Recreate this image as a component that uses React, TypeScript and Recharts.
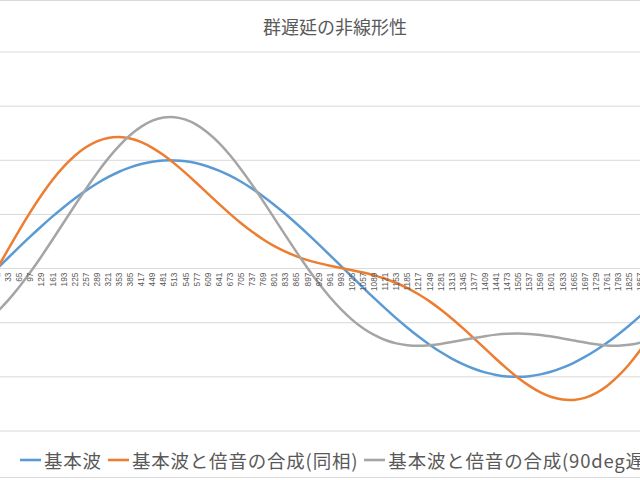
import { LineChart, Line, XAxis, YAxis, CartesianGrid, Legend } from "recharts"

// サンプル番号（横軸ラベル、32おき）
const LABELS = [
  1, 33, 65, 97, 129, 161, 193, 225, 257, 289, 321, 353, 385, 417, 449, 481, 513, 545, 577, 609, 641,
  673, 705, 737, 769, 801, 833, 865, 897, 929, 961, 993, 1025, 1057, 1089, 1121, 1153, 1185, 1217, 1249,
  1281, 1313, 1345, 1377, 1409, 1441, 1473, 1505, 1537, 1569, 1601, 1633, 1665, 1697, 1729, 1761, 1793,
  1825, 1857, 1889, 1921, 1953, 1985,
]

// 基本波
const BASE = [
  0, 0.1, 0.2, 0.297, 0.391, 0.482, 0.567, 0.647, 0.72, 0.786, 0.844, 0.894, 0.934, 0.965, 0.987, 0.998,
  0.999, 0.991, 0.972, 0.943, 0.905, 0.858, 0.802, 0.738, 0.666, 0.588, 0.504, 0.414, 0.321, 0.224, 0.125,
  0.025, -0.075, -0.175, -0.273, -0.368, -0.46, -0.546, -0.628, -0.703, -0.771, -0.831, -0.882, -0.925,
  -0.959, -0.982, -0.996, -1.0, -0.994, -0.977, -0.951, -0.915, -0.87, -0.816, -0.754, -0.685, -0.608,
  -0.525, -0.437, -0.345, -0.249, -0.15, -0.05,
]

// 基本波と倍音の合成(同相)
const IN_PHASE = [
  0, 0.18, 0.356, 0.524, 0.679, 0.82, 0.941, 1.042, 1.12, 1.175, 1.206, 1.214, 1.201, 1.167, 1.115, 1.048,
  0.969, 0.881, 0.788, 0.692, 0.597, 0.505, 0.418, 0.339, 0.269, 0.207, 0.156, 0.113, 0.078, 0.05, 0.026,
  0.005, -0.015, -0.037, -0.063, -0.094, -0.133, -0.18, -0.237, -0.303, -0.378, -0.461, -0.55, -0.644,
  -0.74, -0.835, -0.926, -1.01, -1.083, -1.143, -1.186, -1.21, -1.213, -1.194, -1.15, -1.084, -0.994,
  -0.883, -0.752, -0.603, -0.441, -0.269, -0.09,
]

// 基本波と倍音の合成(90deg遅れ)
const DELAYED = [
  -0.4, -0.292, -0.168, -0.032, 0.114, 0.268, 0.425, 0.582, 0.735, 0.881, 1.015, 1.133, 1.233, 1.311, 1.366,
  1.395, 1.398, 1.375, 1.327, 1.254, 1.16, 1.046, 0.916, 0.773, 0.621, 0.464, 0.307, 0.152, 0.003, -0.136,
  -0.262, -0.374, -0.471, -0.551, -0.613, -0.66, -0.691, -0.708, -0.713, -0.708, -0.696, -0.679, -0.66,
  -0.641, -0.624, -0.61, -0.602, -0.6, -0.604, -0.613, -0.628, -0.645, -0.664, -0.683, -0.699, -0.71,
  -0.712, -0.704, -0.684, -0.65, -0.599, -0.532, -0.448,
]

const Y_TICKS = [-1.5, -1, -0.5, 0, 0.5, 1, 1.5, 2]

const SERIES = [
  { key: "base", name: "基本波", color: "#5B9BD5" },
  { key: "inPhase", name: "基本波と倍音の合成(同相)", color: "#ED7D31" },
  { key: "delayed", name: "基本波と倍音の合成(90deg遅れ)", color: "#A5A5A5" },
]

const data = LABELS.map((n, i) => ({
  n,
  base: BASE[i],
  inPhase: IN_PHASE[i],
  delayed: DELAYED[i],
}))

const FONT = '"Noto Sans CJK JP", "Noto Sans", sans-serif'
const TEXT_COLOR = "#595959"
const GRID_COLOR = "#d9d9d9"

const CHART_W = 730
const CHART_H = 477
const MARGIN = { top: 52, right: 20, left: 17, bottom: 0 }
const X_AXIS_H = 46
const PLOT_H = CHART_H - MARGIN.top - X_AXIS_H
// the category axis crosses at y = 0, so the labels sit there, not at the bottom
const ZERO_Y = MARGIN.top + PLOT_H * (2 / 3.5)

function AxisTick(props: any) {
  const { x, payload } = props
  const y = ZERO_Y + 4
  return (
    <text
      x={x}
      y={y}
      dy="0.35em"
      transform={`rotate(-90 ${x} ${y})`}
      textAnchor="end"
      fontSize={8.3}
      fontFamily='"Liberation Sans", Arial, sans-serif'
      fill={TEXT_COLOR}
    >
      {payload.value}
    </text>
  )
}

// Excel-style legend, kept in series order and left aligned
function LegendContent() {
  return (
    <div style={{ display: "flex", alignItems: "center", whiteSpace: "nowrap" }}>
      {SERIES.map((s) => (
        <div key={s.key} style={{ display: "flex", alignItems: "center", marginRight: 6 }}>
          <svg width={21} height={12} style={{ marginRight: 3 }}>
            <line x1={0} x2={21} y1={6} y2={6} stroke={s.color} strokeWidth={2.6} />
          </svg>
          <span
            style={{
              color: TEXT_COLOR,
              fontSize: 18.5,
              letterSpacing: 0.8,
              fontFamily: FONT,
              lineHeight: "24px",
            }}
          >
            {s.name}
          </span>
        </div>
      ))}
    </div>
  )
}

export default function App() {
  return (
    <div
      style={{
        position: "absolute",
        left: 0,
        top: 0,
        width: 640,
        height: 480,
        overflow: "hidden",
        background: "#fff",
        fontFamily: FONT,
      }}
    >
      <div
        style={{
          position: "absolute",
          left: -20,
          top: 0,
          width: CHART_W,
          height: CHART_H + 1,
          boxSizing: "border-box",
          border: `1px solid ${GRID_COLOR}`,
        }}
      />
      <div
        style={{
          position: "absolute",
          left: 135,
          top: 15,
          width: 400,
          textAlign: "center",
          fontSize: 18,
          lineHeight: "22px",
          color: TEXT_COLOR,
        }}
      >
        群遅延の非線形性
      </div>
      <div style={{ position: "absolute", left: -20, top: 0 }}>
        <LineChart width={CHART_W} height={CHART_H} data={data} margin={MARGIN}>
          <CartesianGrid vertical={false} stroke={GRID_COLOR} strokeWidth={1} />
          <XAxis
            dataKey="n"
            type="number"
            domain={[0.5, 2000.5]}
            ticks={LABELS}
            interval={0}
            height={X_AXIS_H}
            axisLine={false}
            tickLine={false}
            tick={<AxisTick />}
          />
          <YAxis hide domain={[-1.5, 2]} ticks={Y_TICKS} />
          <Legend
            layout="horizontal"
            verticalAlign="middle"
            align="center"
            content={<LegendContent />}
            wrapperStyle={{ left: 40, top: 448, width: 900 }}
          />
          {SERIES.map((s) => (
            <Line
              key={s.key}
              type="natural"
              dataKey={s.key}
              name={s.name}
              stroke={s.color}
              strokeWidth={2.5}
              dot={false}
              activeDot={false}
              isAnimationActive={false}
            />
          ))}
        </LineChart>
      </div>
    </div>
  )
}
